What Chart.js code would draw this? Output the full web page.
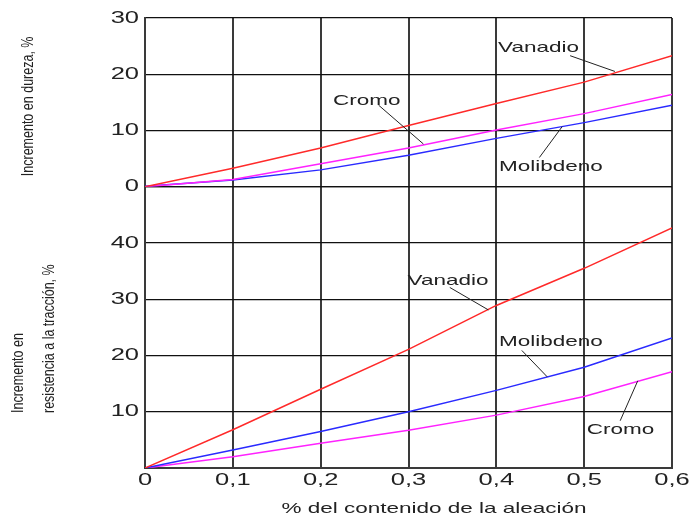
<!DOCTYPE html>
<html>
<head>
<meta charset="utf-8">
<script src="https://cdn.jsdelivr.net/npm/chart.js@4.4.1/dist/chart.umd.min.js"></script>
<style>
html,body{margin:0;padding:0;background:#fff;}
#wrap{width:689px;height:516px;position:relative;}
</style>
</head>
<body>
<div id="wrap"><canvas id="c"></canvas></div>
<script>
// ---- data ----
const contenido = [0, 0.1, 0.2, 0.3, 0.4, 0.5, 0.6];           // % del contenido de la aleación
const durezaVanadio     = [0, 3.3, 6.9, 10.9, 14.8, 18.6, 23.3];
const durezaCromo       = [0, 1.3, 4.1, 6.9, 10.1, 13.0, 16.4];
const durezaMolibdeno   = [0.1, 1.2, 3.0, 5.6, 8.6, 11.4, 14.5];
const traccionVanadio   = [0, 6.8, 14.0, 21.1, 28.9, 35.5, 42.7];
const traccionMolibdeno = [0, 3.2, 6.5, 10.0, 13.8, 17.9, 23.1];
const traccionCromo     = [0, 2.0, 4.4, 6.7, 9.4, 12.7, 17.1];
const durezaTicks   = [0, 10, 20, 30];
const traccionTicks = [0, 10, 20, 30, 40];
const xTickLabels   = ['0', '0,1', '0,2', '0,3', '0,4', '0,5', '0,6'];
const tituloDureza   = 'Incremento en dureza, %';
const tituloTraccion = ['Incremento en', 'resistencia a la tracción, %'];
const tituloX = '% del contenido de la aleación';

// ---- annotation placement (data coordinates of the panel they belong to) ----
const etiquetas = [
  {text: 'Vanadio',   axis: 'yTop', tx: 0.402, ty: 24.7, from: [0.484, 23.3], to: [0.535, 20.5]},
  {text: 'Cromo',     axis: 'yTop', tx: 0.214, ty: 15.3, from: [0.266, 14.5], to: [0.317, 7.6]},
  {text: 'Molibdeno', axis: 'yTop', tx: 0.403, ty: 3.5,  from: [0.449, 5.2],  to: [0.475, 10.7]},
  {text: 'Vanadio',   axis: 'yBot', tx: 0.299, ty: 33.3, from: [0.347, 32.1], to: [0.391, 28.1]},
  {text: 'Molibdeno', axis: 'yBot', tx: 0.403, ty: 22.4, from: [0.429, 20.9], to: [0.458, 16.2]},
  {text: 'Cromo',     axis: 'yBot', tx: 0.503, ty: 6.7,  from: [0.541, 8.4],  to: [0.561, 15.5]}
];

const FONT = "'Liberation Sans', Arial, sans-serif";
const TXT = '#222';

function pts(ys) { return contenido.map((x, i) => ({x: x, y: ys[i]})); }

function stretched(ctx, text, x, y, size, align, baseline, sx) {
  ctx.save();
  ctx.font = size + 'px ' + FONT;
  ctx.fillStyle = TXT;
  ctx.textAlign = align;
  ctx.textBaseline = baseline;
  ctx.translate(x, y);
  ctx.scale(sx, 1);
  ctx.fillText(text, 0, 0);
  ctx.restore();
}

function rotated(ctx, text, x, y, size, align, sy) {
  ctx.save();
  ctx.font = size + 'px ' + FONT;
  ctx.fillStyle = TXT;
  ctx.textAlign = align;
  ctx.textBaseline = 'alphabetic';
  ctx.translate(x, y);
  ctx.rotate(-Math.PI / 2);
  ctx.scale(1, sy);
  ctx.fillText(text, 0, 0);
  ctx.restore();
}

const textPlugin = {
  id: 'textPlugin',
  afterDatasetsDraw(chart) {
    const ctx = chart.ctx;
    const xs = chart.scales.x;
    ctx.save();
    ctx.strokeStyle = '#222';
    ctx.lineWidth = 1;
    etiquetas.forEach(e => {
      const ys = chart.scales[e.axis];
      ctx.beginPath();
      ctx.moveTo(xs.getPixelForValue(e.from[0]), ys.getPixelForValue(e.from[1]));
      ctx.lineTo(xs.getPixelForValue(e.to[0]), ys.getPixelForValue(e.to[1]));
      ctx.stroke();
    });
    ctx.restore();
  },
  afterDraw(chart) {
    const ctx = chart.ctx;
    const xs = chart.scales.x, yT = chart.scales.yTop, yB = chart.scales.yBot;
    const area = chart.chartArea;
    // y tick labels
    durezaTicks.forEach(v => stretched(ctx, String(v), area.left - 6, yT.getPixelForValue(v), 17, 'right', 'middle', 1.5));
    traccionTicks.forEach(v => { if (v > 0) stretched(ctx, String(v), area.left - 6, yB.getPixelForValue(v), 17, 'right', 'middle', 1.5); });
    // x tick labels
    contenido.forEach((v, i) => stretched(ctx, xTickLabels[i], xs.getPixelForValue(v), area.bottom + 12, 17, 'center', 'middle', 1.5));
    // x title
    stretched(ctx, tituloX, area.left + 289, area.bottom + 45, 15, 'center', 'alphabetic', 1.5);
    // y titles
    rotated(ctx, tituloDureza, 33, (yT.top + yT.bottom) / 2 + 4, 12.5, 'center', 1.3);
    rotated(ctx, tituloTraccion[0], 23, 413, 12.5, 'left', 1.3);
    rotated(ctx, tituloTraccion[1], 54, 413, 12.5, 'left', 1.3);
    // series labels
    etiquetas.forEach(e => {
      const ys = chart.scales[e.axis];
      stretched(ctx, e.text, xs.getPixelForValue(e.tx), ys.getPixelForValue(e.ty), 15, 'left', 'middle', 1.5);
    });
  }
};

const line = (data, color, axis) => ({
  data: pts(data), yAxisID: axis, borderColor: color, backgroundColor: color,
  borderWidth: 1.5, pointRadius: 0, tension: 0, fill: false
});

new Chart(document.getElementById('c'), {
  type: 'line',
  data: {
    datasets: [
      line(durezaVanadio, '#ff2a2a', 'yTop'),
      line(durezaCromo, '#ff22ff', 'yTop'),
      line(durezaMolibdeno, '#2a2aff', 'yTop'),
      line(traccionVanadio, '#ff2a2a', 'yBot'),
      line(traccionMolibdeno, '#2a2aff', 'yBot'),
      line(traccionCromo, '#ff22ff', 'yBot')
    ]
  },
  options: {
    responsive: true,
    maintainAspectRatio: false,
    animation: false,
    events: [],
    layout: {padding: {top: 18, right: 17, bottom: 0, left: 0}},
    plugins: {legend: {display: false}, tooltip: {enabled: false}, title: {display: false}},
    scales: {
      x: {
        type: 'linear', min: 0, max: 0.6,
        ticks: {display: false, stepSize: 0.1},
        grid: {color: '#3a3a3a', lineWidth: 2, drawTicks: false},
        border: {display: true, color: '#3a3a3a', width: 2},
        afterFit(s) { s.height = 48; s.paddingLeft = 0; s.paddingRight = 0; }
      },
      yBot: {
        type: 'linear', position: 'left', stack: 'panel', stackWeight: 5, weight: 0,
        min: 0, max: 50,
        ticks: {display: false, stepSize: 10},
        grid: {color: '#111', lineWidth: 1.3, drawTicks: false},
        border: {display: true, color: '#3a3a3a', width: 2},
        afterFit(s) { s.width = 145; }
      },
      yTop: {
        type: 'linear', position: 'left', stack: 'panel', stackWeight: 3, weight: 1,
        min: 0, max: 30,
        ticks: {display: false, stepSize: 10},
        grid: {color: '#111', lineWidth: 1.3, drawTicks: false},
        border: {display: true, color: '#3a3a3a', width: 2},
        afterFit(s) { s.width = 145; }
      }
    }
  },
  plugins: [textPlugin]
});
</script>
</body>
</html>
